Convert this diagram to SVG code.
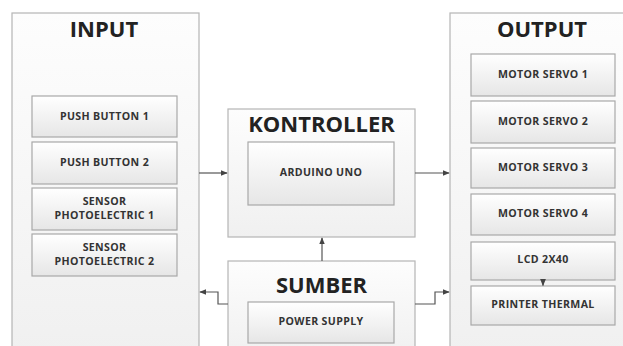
<svg xmlns="http://www.w3.org/2000/svg" width="623" height="346" viewBox="0 0 623 346">
<defs>
<linearGradient id="g" x1="0" y1="0" x2="0" y2="1">
<stop offset="0" stop-color="#ffffff"/>
<stop offset="1" stop-color="#e6e6e6"/>
</linearGradient>
<linearGradient id="gb" x1="0" y1="0" x2="0" y2="1">
<stop offset="0" stop-color="#fdfdfd"/>
<stop offset="1" stop-color="#f0f0f0"/>
</linearGradient>
<marker id="ah" viewBox="0 0 10 10" refX="9" refY="5" markerWidth="6" markerHeight="6" orient="auto">
<path d="M0,1 L10,5 L0,9 z" fill="#444"/>
</marker>
<style>
.outer{fill:url(#gb);stroke:#b5b5b5;stroke-width:1.2}
.inner{fill:url(#g);stroke:#a8a8a8;stroke-width:1.2}
.title{font-family:"Open Sans","Liberation Sans",sans-serif;font-weight:bold;font-size:22px;fill:#222;text-anchor:middle}
.lbl{font-family:"Open Sans","Liberation Sans",sans-serif;font-weight:bold;font-size:10.6px;letter-spacing:0.35px;fill:#333;text-anchor:middle}
.con{fill:none;stroke:#555;stroke-width:1.2;marker-end:url(#ah)}
</style>
</defs>
<rect width="623" height="346" fill="#ffffff"/>
<g id="input">
<rect class="outer" x="12" y="13" width="187" height="345"/>
<text class="title" x="104" y="37">INPUT</text>
</g>
<g id="push1"><rect class="inner" x="32" y="96" width="145" height="41"/><text class="lbl" x="104.5" y="120">PUSH BUTTON 1</text></g>
<g id="push2"><rect class="inner" x="32" y="142" width="145" height="42"/><text class="lbl" x="104.5" y="166">PUSH BUTTON 2</text></g>
<g id="sensor1"><rect class="inner" x="32" y="188" width="145" height="42"/><text class="lbl" x="104.5" y="205">SENSOR</text><text class="lbl" x="104.5" y="219">PHOTOELECTRIC 1</text></g>
<g id="sensor2"><rect class="inner" x="32" y="234" width="145" height="42"/><text class="lbl" x="104.5" y="251">SENSOR</text><text class="lbl" x="104.5" y="265">PHOTOELECTRIC 2</text></g>
<g id="kontroller">
<rect class="outer" x="228" y="109" width="187" height="128"/>
<text class="title" x="321.5" y="132">KONTROLLER</text>
</g>
<g id="arduino"><rect class="inner" x="248" y="142" width="146" height="63"/><text class="lbl" x="321" y="176">ARDUINO UNO</text></g>
<g id="sumber">
<rect class="outer" x="228" y="261" width="187" height="97"/>
<text class="title" x="321.5" y="293">SUMBER</text>
</g>
<g id="power"><rect class="inner" x="248" y="302" width="146" height="41"/><text class="lbl" x="321" y="325">POWER SUPPLY</text></g>
<g id="output">
<rect class="outer" x="450" y="13" width="185" height="345"/>
<text class="title" x="542" y="37">OUTPUT</text>
</g>
<g id="servo1"><rect class="inner" x="471" y="54" width="144" height="42"/><text class="lbl" x="543" y="78">MOTOR SERVO 1</text></g>
<g id="servo2"><rect class="inner" x="471" y="101" width="144" height="42"/><text class="lbl" x="543" y="125">MOTOR SERVO 2</text></g>
<g id="servo3"><rect class="inner" x="471" y="148" width="144" height="40"/><text class="lbl" x="543" y="171">MOTOR SERVO 3</text></g>
<g id="servo4"><rect class="inner" x="471" y="194" width="144" height="41"/><text class="lbl" x="543" y="217">MOTOR SERVO 4</text></g>
<g id="lcd"><rect class="inner" x="471" y="242" width="144" height="38"/><text class="lbl" x="543" y="263">LCD 2X40</text></g>
<g id="printer"><rect class="inner" x="471" y="286" width="144" height="39"/><text class="lbl" x="543" y="308">PRINTER THERMAL</text></g>
<g id="connectors">
<path class="con" d="M199,173 H227"/>
<path class="con" d="M415,173 H449"/>
<path class="con" d="M322,261 V238"/>
<path class="con" d="M228,304 H218 V292 H200"/>
<path class="con" d="M415,304 H435 V292 H449"/>
<path class="con" d="M543,280 V285.5"/>
</g>
</svg>
